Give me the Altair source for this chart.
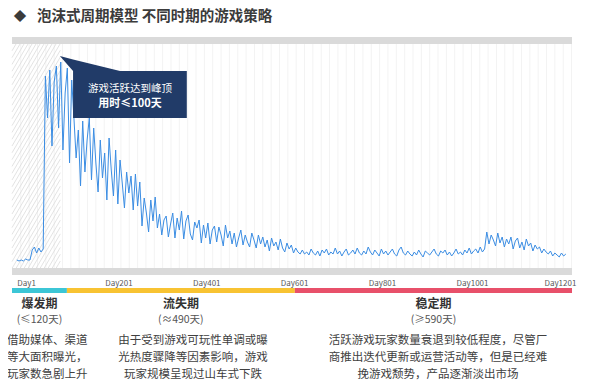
import altair as alt
import pandas as pd

FONT = "Noto Sans CJK SC"

# ---------------- data ----------------
days = list(range(1, 1252, 5))            # sampled every 5 days
launch = [8, 7, 8, 7, 9, 8, 8, 18, 21, 15, 20, 16, 19]                        # day 1-61
burst = [192, 150, 198, 122, 186, 202, 140, 206, 118, 175, 200, 105, 188]      # day 66-126
peak_decay = [150, 110, 138, 82, 147, 96, 128, 150, 88, 140, 105, 76]          # day 131-186
decline1 = [128, 90, 115, 68, 130, 98, 72, 118, 64, 108,
            85, 60, 96, 75, 92, 58, 94, 62, 86]                               # day 191-281
decline2 = [42, 70, 55, 36, 68, 47, 71, 40, 54, 33,
            48, 52, 31, 44, 55, 30, 50, 38, 57, 29,
            47, 53, 34, 28, 46, 40, 48, 25, 43, 30,
            45, 24, 38, 42]                                                   # day 286-451
decline3 = [26, 41, 33, 22, 43, 30, 37, 24, 35, 21,
            30, 38, 23, 33, 26, 21, 35, 28, 20, 33,
            24, 31, 21, 28, 17, 30, 22, 26, 18, 29,
            20, 16, 25, 19, 23, 15, 20, 16, 14]                               # day 456-646
stable1 = [18, 14, 16, 13, 19, 15, 13, 17, 12, 18,
           15, 19, 13, 16, 14, 20, 14, 17, 12, 16,
           19, 13, 15, 18, 14, 20, 15, 13, 17, 14,
           21, 16, 13, 18, 15, 12, 19, 14, 17, 13,
           16, 19, 14, 12, 18, 21, 15, 13, 17, 14,
           12, 16, 13, 18, 14, 11, 17, 15, 13, 16,
           19, 14, 12, 17, 15, 18, 13, 16, 12, 15,
           19, 14, 16, 13, 18, 15, 20, 14, 17, 19,
           15, 21, 16, 19]                                                    # day 651-1066
stable2 = [36, 24, 33, 28, 22, 35, 25, 31, 21, 29,
           24, 31, 19, 27, 30, 20, 26, 18, 29, 22,
           25, 17, 23, 19, 21, 15, 19, 16, 14, 17,
           12, 15, 13, 11, 15, 12, 14]                                        # day 1071-1251
players = launch + burst + peak_decay + decline1 + decline2 + decline3 + stable1 + stable2
assert len(players) == len(days)

tick_days = [1, 201, 401, 601, 801, 1001, 1201]
phases = ["爆发期", "流失期", "稳定期"]
durations = ["(≤120天)", "(≈490天)", "(≥590天)"]
phase_start = [-10, 115, 634]
phase_end = [115, 634, 1265]
phase_colors = ["#3cc6d6", "#f8c332", "#e8506a"]
descriptions = [
    "借助媒体、渠道\n等大面积曝光，\n玩家数急剧上升",
    "由于受到游戏可玩性单调或曝\n光热度骤降等因素影响，游戏\n玩家规模呈现过山车式下跌",
    "活跃游戏玩家数量衰退到较低程度，尽管厂\n商推出迭代更新或运营活动等，但是已经难\n挽游戏颓势，产品逐渐淡出市场",
]
desc_center = [70, 402, 960]
peak_day = 100
note_lines = ["游戏活跃达到峰顶", "用时≤100天"]
note_box_days = [129, 388]
note_box_vals = [150, 197]
pointer_days = [99, 129, 236]
pointer_top = [212, 208.5, 197]
pointer_bottom = [212, 197, 197]

# ---------------- chart ----------------
XMIN, XMAX = -10, 1265
W, H = 560, 224
PX = W / (XMAX - XMIN)
NAVY = "#213b68"

x_scale = alt.Scale(domain=[XMIN, XMAX], nice=False, zero=False)
y_scale = alt.Scale(domain=[0, H], nice=False, zero=False)
x_axis = alt.Axis(values=tick_days, labelExpr="'Day' + datum.value", labelAlign="left",
                  labelBaseline="middle", labelPadding=15, ticks=False, tickSize=0,
                  domain=False, grid=False, labelFontSize=8, labelColor="#595959",
                  labelFont=FONT, labelOverlap=False, labelFlush=False, title=None)


def X(f):
    return alt.X(f, type="quantitative", scale=x_scale, axis=x_axis)


def Y(f):
    return alt.Y(f, type="quantitative", scale=y_scale, axis=None)


one = pd.DataFrame({"a": [0]})

# hatch lines over the burst window
hatch_rows = []
slope = 1.7
hx_end = (peak_day - XMIN) * PX
c = -H / slope
while c < hx_end:
    xs, xe = max(0.0, c), min(hx_end, c + H / slope)
    if xe > xs:
        hatch_rows.append({"x": xs / PX + XMIN, "x2": xe / PX + XMIN,
                           "y": slope * (xs - c), "y2": slope * (xe - c)})
    c += 4
hatch = alt.Chart(pd.DataFrame(hatch_rows)).mark_rule(color="#dcdcdc", strokeWidth=0.8).encode(
    x=X("x"), x2="x2", y=Y("y"), y2="y2")

grid = alt.Chart(pd.DataFrame({"d": list(range(10, 1265, 19))})).mark_rule(
    color="#f3f3f3", strokeWidth=1).encode(x=X("d"), y=alt.value(0), y2=alt.value(H))

top_band = alt.Chart(one).mark_rect(color="#dadada").encode(
    x=alt.value(0), x2=alt.value(W), y=alt.value(-7), y2=alt.value(0))
bottom_band = alt.Chart(one).mark_rect(color="#dadada").encode(
    x=alt.value(0), x2=alt.value(W), y=alt.value(H), y2=alt.value(H + 7))

line = alt.Chart(pd.DataFrame({"day": days, "v": players})).mark_line(
    color="#3b8de3", strokeWidth=1).encode(x=X("day"), y=Y("v"))

box = alt.Chart(pd.DataFrame({"x": [note_box_days[0]], "x2": [note_box_days[1]],
                              "y": [note_box_vals[0]], "y2": [note_box_vals[1]]})).mark_rect(
    color=NAVY).encode(x=X("x"), x2="x2", y=Y("y"), y2="y2")
pointer = alt.Chart(pd.DataFrame({"x": pointer_days, "y": pointer_top, "y2": pointer_bottom})).mark_area(
    color=NAVY).encode(x=X("x"), y=Y("y"), y2="y2")
note1 = alt.Chart(pd.DataFrame({"x": [sum(note_box_days) / 2], "y": [179], "t": [note_lines[0]]})).mark_text(
    font=FONT, fontSize=10.5, color="white", baseline="middle").encode(x=X("x"), y=Y("y"), text="t")
note2 = alt.Chart(pd.DataFrame({"x": [sum(note_box_days) / 2], "y": [164.5], "t": [note_lines[1]]})).mark_text(
    font=FONT, fontSize=11, fontWeight="bold", color="white", baseline="middle").encode(
    x=X("x"), y=Y("y"), text="t")

pdf = pd.DataFrame({"phase": phases, "dur": durations, "start": phase_start, "end": phase_end,
                    "desc": descriptions, "desc_x": desc_center})
base_p = alt.Chart(pdf).transform_calculate(mid="(datum.start + datum.end) / 2")
bars = base_p.mark_rect().encode(
    x=X("start"), x2="end", y=alt.value(244), y2=alt.value(249),
    color=alt.Color("phase:N", scale=alt.Scale(domain=phases, range=phase_colors), legend=None))
names = base_p.mark_text(font=FONT, fontSize=12, fontWeight="bold", color="#333333",
                         baseline="middle").encode(x=X("mid"), y=alt.value(260), text="phase")
durs = base_p.mark_text(font=FONT, fontSize=10.5, color="#555555", baseline="middle").encode(
    x=X("mid"), y=alt.value(276), text="dur")
descs = base_p.mark_text(font=FONT, fontSize=11.5, color="#404040", baseline="top",
                         lineBreak="\n", lineHeight=17).encode(
    x=X("desc_x"), y=alt.value(291), text="desc")

diamond = alt.Chart(one).mark_text(text="◆", font=FONT, fontSize=12.5, color="#3b3b3b",
                                   baseline="middle").encode(x=alt.value(8), y=alt.value(-27))
title = alt.Chart(one).mark_text(text="泡沫式周期模型   不同时期的游戏策略", font=FONT, fontSize=14.5,
                                 fontWeight="bold", color="#3b3b3b", align="left",
                                 baseline="middle").encode(x=alt.value(25), y=alt.value(-27))

chart = alt.layer(grid, hatch, top_band, bottom_band, line, box, pointer, note1, note2,
                  bars, names, durs, descs, diamond, title).properties(
    width=W, height=H,
    padding={"left": 4, "top": 36, "right": 12, "bottom": 116},
    autosize=alt.AutoSizeParams(type="none"),
    background="white",
).configure_view(stroke=None)

chart.save("out.html", embed_options={"renderer": "svg", "actions": False})
